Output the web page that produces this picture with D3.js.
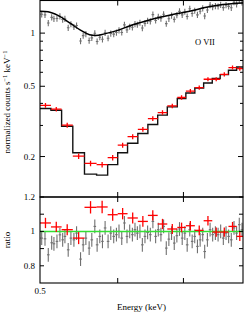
<!DOCTYPE html>
<html>
<head>
<meta charset="utf-8">
<script src="https://cdn.jsdelivr.net/npm/d3@7/dist/d3.min.js"></script>
<style>
body { margin: 0; background: #fff; }
text { font-family: "Liberation Serif", "DejaVu Serif", serif; fill: #000; }
</style>
</head>
<body>
<div id="chart"></div>
<script>
// binned (red) spectrum: bin edges in keV, counts, model, ratio, relative error
const redEdges = [0.500, 0.513, 0.526, 0.540, 0.555, 0.571, 0.586, 0.600, 0.614, 0.629, 0.644,
                  0.659, 0.674, 0.690, 0.704, 0.719, 0.734, 0.749, 0.763, 0.778, 0.793, 0.805];
const redCounts = [0.390, 0.371, 0.301, 0.201, 0.183, 0.180, 0.197, 0.232, 0.259, 0.285, 0.328,
                   0.355, 0.387, 0.432, 0.469, 0.491, 0.548, 0.548, 0.584, 0.638, 0.630];
const redModel = [0.374, 0.366, 0.297, 0.210, 0.159, 0.157, 0.180, 0.210, 0.238, 0.270, 0.304,
                  0.343, 0.382, 0.426, 0.458, 0.489, 0.522, 0.553, 0.582, 0.616, 0.643];
const redRatio = [1.049, 1.026, 1.010, 0.961, 1.140, 1.142, 1.097, 1.103, 1.078, 1.058, 1.093,
                  1.043, 1.014, 1.023, 1.033, 1.006, 1.062, 0.996, 0.996, 1.029, 0.971];
const redErr = [0.030, 0.030, 0.032, 0.035, 0.036, 0.036, 0.035, 0.033, 0.032, 0.031, 0.030,
                0.030, 0.029, 0.028, 0.028, 0.028, 0.027, 0.027, 0.027, 0.026, 0.027];

// unbinned (grey) spectrum
const grayEnergy = [0.502, 0.5059, 0.5098, 0.5139, 0.5166, 0.5203, 0.5239, 0.5273, 0.5301, 0.5342,
                    0.5376, 0.5414, 0.5448, 0.5499, 0.5533, 0.5568, 0.5611, 0.5646, 0.5686, 0.5717,
                    0.5753, 0.5789, 0.5825, 0.5866, 0.5903, 0.5944, 0.5982, 0.6018, 0.6057, 0.6095,
                    0.6132, 0.6171, 0.6210, 0.6248, 0.6283, 0.6321, 0.6357, 0.6396, 0.6436, 0.6477,
                    0.6516, 0.6558, 0.6599, 0.6640, 0.6682, 0.6724, 0.6765, 0.6808, 0.6851, 0.6893,
                    0.6936, 0.6980, 0.7023, 0.7062, 0.7105, 0.7145, 0.7188, 0.7234, 0.7280, 0.7324,
                    0.7358, 0.7405, 0.7452, 0.7497, 0.7545, 0.7593, 0.7639, 0.7687, 0.7736, 0.7783,
                    0.7832, 0.7882, 0.7930, 0.7980, 0.8031];
const grayCounts = [1.278, 1.268, 1.140, 1.228, 1.206, 1.210, 1.245, 1.194, 1.204, 1.072,
                    1.124, 1.084, 1.104, 0.902, 0.968, 0.988, 0.908, 0.940, 0.998, 0.897,
                    0.948, 0.923, 1.004, 0.936, 0.995, 0.987, 1.008, 1.038, 1.009, 1.114,
                    1.043, 1.088, 1.079, 1.126, 1.116, 1.146, 1.068, 1.136, 1.173, 1.167,
                    1.273, 1.179, 1.236, 1.210, 1.279, 1.131, 1.205, 1.258, 1.196, 1.264,
                    1.328, 1.269, 1.322, 1.243, 1.375, 1.291, 1.340, 1.269, 1.331, 1.381,
                    1.250, 1.352, 1.441, 1.405, 1.423, 1.415, 1.447, 1.395, 1.441, 1.418,
                    1.391, 1.496, 1.456, 1.533, 1.494];
const grayRatio = [0.961, 0.957, 0.864, 0.934, 0.928, 0.942, 0.980, 0.951, 0.971, 0.893,
                   0.961, 0.951, 0.990, 0.839, 0.922, 0.961, 0.903, 0.951, 1.029, 0.922,
                   0.971, 0.942, 1.020, 0.942, 0.990, 0.971, 0.981, 1.000, 0.961, 1.049,
                   0.971, 1.000, 0.981, 1.010, 0.990, 1.000, 0.922, 0.971, 0.994, 0.981,
                   1.058, 0.971, 1.010, 0.981, 1.029, 0.903, 0.955, 0.990, 0.932, 0.975,
                   1.014, 0.961, 0.990, 0.922, 1.010, 0.942, 0.971, 0.913, 0.951, 0.981,
                   0.883, 0.951, 1.010, 0.981, 0.990, 0.981, 1.000, 0.961, 0.990, 0.971,
                   0.951, 1.020, 0.990, 1.039, 1.010];
const grayErr = 0.04;

// smooth model through the grey spectrum
const modelEnergy = [0.500, 0.5094, 0.5215, 0.5376, 0.5503, 0.5616, 0.5699, 0.5816, 0.600,
                     0.6185, 0.6338, 0.6546, 0.6826, 0.7101, 0.7385, 0.7677, 0.805];
const modelCounts = [1.33, 1.32, 1.26, 1.13, 1.036, 0.98, 0.97, 0.99, 1.036,
                     1.105, 1.15, 1.21, 1.275, 1.33, 1.40, 1.45, 1.48];

// axis ticks
const countMajor = [0.2, 0.5, 1];
const countMinor = [0.3, 0.4, 0.6, 0.7, 0.8, 0.9];
const ratioMajor = [0.8, 1, 1.2];
const ratioMinor = [0.9, 1.1];
const energyMajor = [0.5];
const energyMinor = [0.6, 0.7];

const W = 245, H = 313;
const L = 40, R = 243, T = 0.5, MID = 197, B = 283;

let svg = d3.select("#chart").append("svg")
    .attr("width", W)
    .attr("height", H);

let x = d3.scaleLog().domain([0.5, 0.805]).range([L, R]);
let yTop = d3.scaleLog().domain([0.118, 1.53]).range([MID, T]);
let yRat = d3.scaleLinear().domain([0.7, 1.2]).range([B, MID]);

svg.append("clipPath").attr("id", "clipTop")
    .append("rect").attr("x", L).attr("y", T).attr("width", R - L).attr("height", MID - T);
svg.append("clipPath").attr("id", "clipBot")
    .append("rect").attr("x", L).attr("y", MID).attr("width", R - L).attr("height", B - MID);

let gTop = svg.append("g").attr("clip-path", "url(#clipTop)");
let gBot = svg.append("g").attr("clip-path", "url(#clipBot)");

// helper: draw error crosses
function crosses(g, pts, color, width) {
    let sel = g.append("g").attr("stroke", color).attr("stroke-width", width).attr("fill", "none");
    pts.forEach(p => {
        sel.append("line").attr("x1", p.x0).attr("x2", p.x1).attr("y1", p.y).attr("y2", p.y);
        sel.append("line").attr("x1", p.xc).attr("x2", p.xc).attr("y1", p.y0).attr("y2", p.y1);
    });
}

// grey spectrum, top panel
crosses(gTop, grayEnergy.map((e, i) => ({
    x0: x(e) - 1.3, x1: x(e) + 1.3, xc: x(e),
    y: yTop(grayCounts[i]),
    y0: yTop(grayCounts[i] * (1 - grayErr)), y1: yTop(grayCounts[i] * (1 + grayErr))
})), "#707070", 1.1);

// smooth model
gTop.append("path")
    .datum(modelEnergy.map((e, i) => [e, modelCounts[i]]))
    .attr("d", d3.line().x(d => x(d[0])).y(d => yTop(d[1])).curve(d3.curveMonotoneX))
    .attr("fill", "none")
    .attr("stroke", "#000")
    .attr("stroke-width", 1.5);

// stepped model for the binned spectrum
let steps = redModel.map((m, i) => [redEdges[i], m]);
steps.push([redEdges[redEdges.length - 1], redModel[redModel.length - 1]]);
gTop.append("path")
    .datum(steps)
    .attr("d", d3.line().x(d => x(d[0])).y(d => yTop(d[1])).curve(d3.curveStepAfter))
    .attr("fill", "none")
    .attr("stroke", "#111")
    .attr("stroke-width", 1.4);

// red spectrum, top panel
crosses(gTop, redCounts.map((c, i) => ({
    x0: x(redEdges[i]), x1: x(redEdges[i + 1]),
    xc: (x(redEdges[i]) + x(redEdges[i + 1])) / 2,
    y: yTop(c), y0: yTop(c * (1 - redErr[i])), y1: yTop(c * (1 + redErr[i]))
})), "#ff0000", 1.3);

// ratio panel
crosses(gBot, grayEnergy.map((e, i) => ({
    x0: x(e) - 1.3, x1: x(e) + 1.3, xc: x(e),
    y: yRat(grayRatio[i]),
    y0: yRat(grayRatio[i] - grayErr), y1: yRat(grayRatio[i] + grayErr)
})), "#707070", 1.1);

gBot.append("line")
    .attr("x1", L).attr("x2", R)
    .attr("y1", yRat(1)).attr("y2", yRat(1))
    .attr("stroke", "#33e033")
    .attr("stroke-width", 1.5);

crosses(gBot, redRatio.map((r, i) => ({
    x0: x(redEdges[i]), x1: x(redEdges[i + 1]),
    xc: (x(redEdges[i]) + x(redEdges[i + 1])) / 2,
    y: yRat(r), y0: yRat(r - redErr[i]), y1: yRat(r + redErr[i])
})), "#ff0000", 1.3);

// frames
let frame = svg.append("g").attr("fill", "none").attr("stroke", "#000").attr("stroke-width", 1.1);
frame.append("rect").attr("x", L).attr("y", T).attr("width", R - L).attr("height", MID - T);
frame.append("rect").attr("x", L).attr("y", MID).attr("width", R - L).attr("height", B - MID);

// ticks
let ticks = svg.append("g").attr("stroke", "#000").attr("stroke-width", 1);
function yTicks(scale, vals, len) {
    vals.forEach(v => {
        let yy = scale(v);
        ticks.append("line").attr("x1", L).attr("x2", L + len).attr("y1", yy).attr("y2", yy);
        ticks.append("line").attr("x1", R - len).attr("x2", R).attr("y1", yy).attr("y2", yy);
    });
}
yTicks(yTop, countMajor, 5);
yTicks(yTop, countMinor, 3);
yTicks(yRat, ratioMajor, 4);
yTicks(yRat, ratioMinor, 4);

[[T, 1], [MID, -1], [MID, 1], [B, -1]].forEach(([yy, dir]) => {
    energyMinor.forEach(e => {
        ticks.append("line").attr("x1", x(e)).attr("x2", x(e))
            .attr("y1", yy).attr("y2", yy + dir * 5);
    });
});

// tick labels
let fmt = v => String(v);
svg.append("g").selectAll("text")
    .data(countMajor)
    .join("text")
    .attr("x", 35)
    .attr("y", d => yTop(d) + 3)
    .attr("text-anchor", "end")
    .attr("font-size", 9)
    .text(fmt);
svg.append("g").selectAll("text")
    .data(ratioMajor)
    .join("text")
    .attr("x", 35)
    .attr("y", d => yRat(d) + 3)
    .attr("text-anchor", "end")
    .attr("font-size", 9)
    .text(fmt);
svg.append("g").selectAll("text")
    .data(energyMajor)
    .join("text")
    .attr("x", d => x(d))
    .attr("y", B + 11)
    .attr("text-anchor", "middle")
    .attr("font-size", 9)
    .text(fmt);

// axis titles
let yt = svg.append("text")
    .attr("transform", "translate(10," + 102 + ") rotate(-90)")
    .attr("text-anchor", "middle")
    .attr("font-size", 9);
yt.append("tspan").text("normalized counts s");
yt.append("tspan").attr("dy", -3).attr("font-size", 6.5).text("\u22121");
yt.append("tspan").attr("dy", 3).text(" keV");
yt.append("tspan").attr("dy", -3).attr("font-size", 6.5).text("\u22121");

svg.append("text")
    .attr("transform", "translate(10," + 240 + ") rotate(-90)")
    .attr("text-anchor", "middle")
    .attr("font-size", 9)
    .text("ratio");

svg.append("text")
    .attr("x", (L + R) / 2)
    .attr("y", 310)
    .attr("text-anchor", "middle")
    .attr("font-size", 9)
    .text("Energy (keV)");

svg.append("text")
    .attr("x", 205)
    .attr("y", 45)
    .attr("text-anchor", "middle")
    .attr("font-size", 8.5)
    .text("O VII");
</script>
</body>
</html>
